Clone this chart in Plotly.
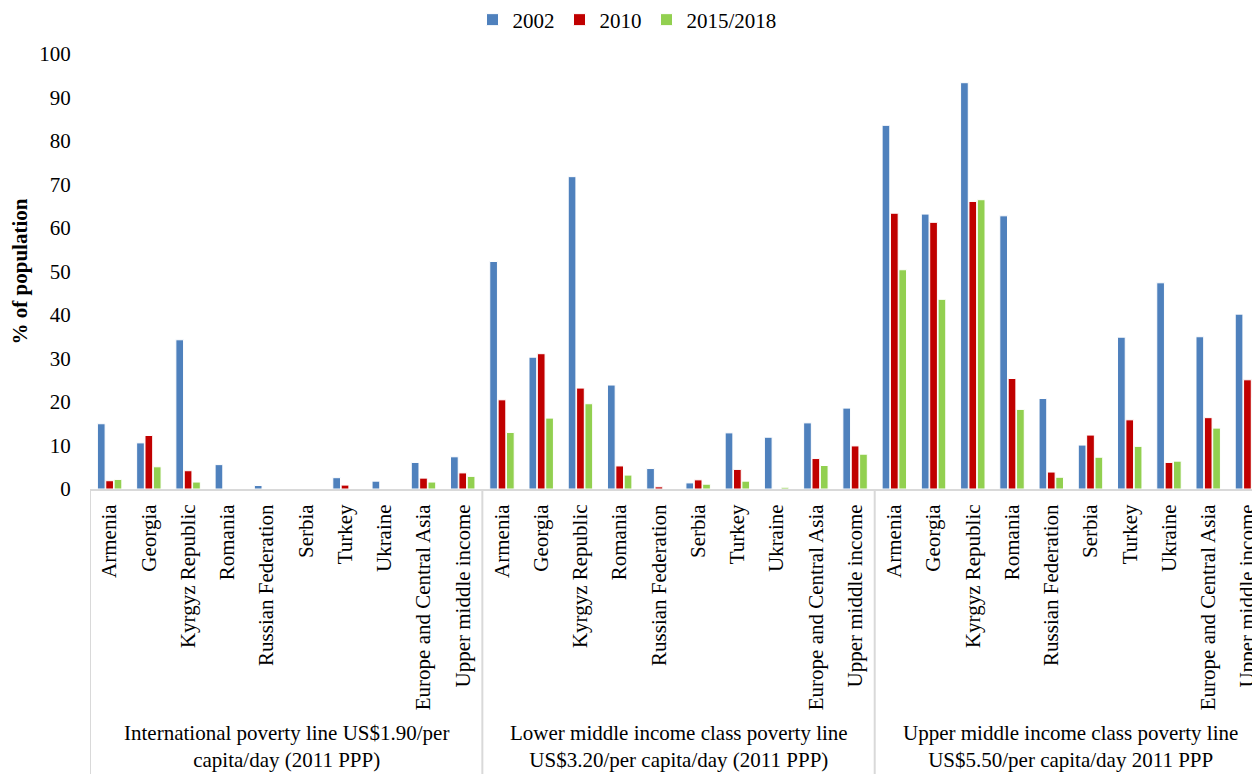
import plotly.graph_objects as go

groups = ["International poverty line US$1.90/per<br>capita/day (2011 PPP)",
          "Lower middle income class poverty line<br>US$3.20/per capita/day (2011 PPP)",
          "Upper middle income class poverty line<br>US$5.50/per capita/day 2011 PPP"]
countries = ["Armenia", "Georgia", "Kyrgyz Republic", "Romania", "Russian Federation",
             "Serbia", "Turkey", "Ukraine", "Europe and Central Asia", "Upper middle income"]

v2002 = [15.0, 10.6, 34.3, 5.6, 0.8, 0.0, 2.6, 1.8, 6.1, 7.4,
         52.3, 30.3, 71.8, 23.9, 4.7, 1.4, 12.9, 11.9, 15.2, 18.6,
         83.6, 63.2, 93.4, 62.8, 20.8, 10.1, 34.9, 47.4, 35.0, 40.2]
v2010 = [1.9, 12.3, 4.2, 0.0, 0.0, 0.0, 0.9, 0.0, 2.5, 3.7,
         20.5, 31.1, 23.2, 5.3, 0.5, 2.1, 4.5, 0.0, 7.0, 9.9,
         63.4, 61.3, 66.1, 25.4, 3.9, 12.4, 15.9, 6.1, 16.4, 25.1]
v2015 = [2.2, 5.1, 1.6, 0.0, 0.0, 0.0, 0.0, 0.0, 1.6, 2.9,
         13.0, 16.3, 19.6, 3.2, 0.0, 1.1, 1.8, 0.4, 5.4, 8.0,
         50.4, 43.6, 66.5, 18.3, 2.7, 7.3, 9.8, 6.4, 14.0, 21.0]

series_names = ["2002", "2010", "2015/2018"]
colors = ["#4F81BD", "#C00000", "#92D050"]

n_c = len(countries)
n_g = len(groups)
positions = list(range(n_c * n_g))
inner = countries * n_g

FONT = "Liberation Serif"
GRID = "#D9D9D9"

W, H = 1252, 766
L, T, B = 82, 46, 285
plot_h = H - T - B
plot_bottom = T + plot_h

fig = go.Figure()
for name, vals, col in zip(series_names, [v2002, v2010, v2015], colors):
    fig.add_trace(go.Bar(
        x=positions, y=vals, name=name,
        marker=dict(color=col, line=dict(color="white", width=1)),
    ))

# group dividers and group labels
for g in range(n_g):
    fig.add_shape(type="line", xref="x", yref="paper",
                  x0=g * n_c - 0.5, x1=g * n_c - 0.5, y0=0, y1=-(B + 5) / plot_h,
                  line=dict(color=GRID, width=2))
    cx = g * n_c + (n_c - 1) / 2
    fig.add_annotation(x=cx, xref="x", y=-(739 - plot_bottom) / plot_h, yref="paper",
                       text=groups[g], showarrow=False, yanchor="middle",
                       font=dict(size=21))

fig.update_layout(
    width=W, height=H,
    paper_bgcolor="white", plot_bgcolor="white",
    margin=dict(l=L, r=0, t=T, b=B, autoexpand=False),
    barmode="group", bargap=0.36, bargroupgap=0.08,
    font=dict(family=FONT, size=21, color="black"),
    legend=dict(orientation="h", x=619 / W, xanchor="center", xref="container",
                y=1 - 12 / H, yanchor="middle", yref="container", font=dict(size=21)),
    showlegend=True,
)
fig.update_yaxes(range=[0, 100], dtick=10, showgrid=False, zeroline=False,
                 showline=False, ticks="outside", ticklen=14, tickcolor="rgba(0,0,0,0)",
                 tickfont=dict(size=21), automargin=False,
                 title=dict(text="<b>% of population</b>", font=dict(size=21), standoff=16))
fig.update_xaxes(range=[-0.5, 29.32], showline=True, linecolor=GRID, linewidth=2,
                 showgrid=False, zeroline=False, automargin=False,
                 tickmode="array", tickvals=positions, ticktext=inner,
                 tickangle=-90, tickfont=dict(size=21), ticklabeloverflow="allow",
                 ticks="outside", ticklen=5, tickcolor="rgba(0,0,0,0)")

fig.write_html("out.html")
